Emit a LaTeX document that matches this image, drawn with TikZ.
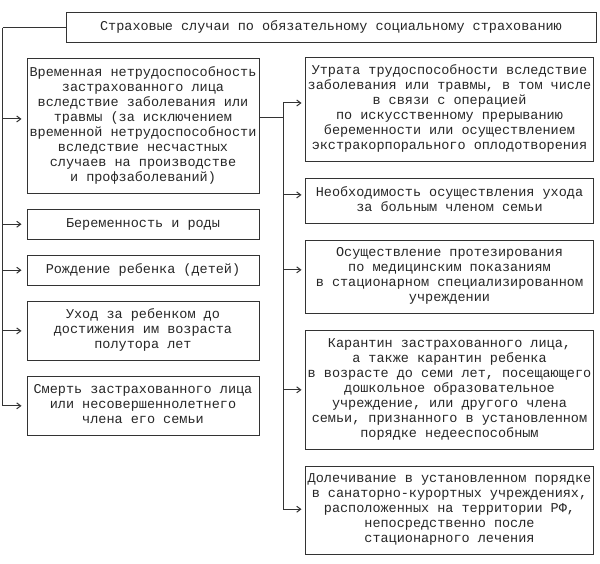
\documentclass[tikz,border=0pt]{standalone}
\usepackage{fontspec}
\setmonofont{Liberation Mono}
\usetikzlibrary{arrows.meta, chains, positioning}

\begin{document}
\begin{tikzpicture}
  [x=1pt, y=-1pt,
    >={Straight Barb[length=4pt, width=6pt]},
    every node/.style={font=\ttfamily\fontsize{13.5}{15}\selectfont, text=black!85}]

  \tikzset{
    box/.style={
      draw=black!80, line width=1pt,
      align=center,
      inner xsep=0pt, inner ysep=7.5pt,
      execute at begin node=\strut,
      execute at end node=\strut,
    },
    head/.style={box, minimum width=530pt},
    lbox/.style={box, minimum width=232pt},
    rbox/.style={box, minimum width=288pt},
    wire/.style={draw=black!80, line width=1pt},
    arrow/.style={wire, ->, shorten >=#1},
  }

  \useasboundingbox (0,0) rectangle (600,564);

  \node[head] (title) at (331,28) {Страховые случаи по обязательному социальному страхованию};

  % left column
  \begin{scope}[start chain=going below, node distance=15pt]
    \node[lbox, on chain] (l1) at (143,126)
      {Временная нетрудоспособность\\застрахованного лица\\вследствие заболевания или\\травмы (за исключением\\временной нетрудоспособности\\вследствие несчастных\\случаев на производстве\\и профзаболеваний)};
    \node[lbox, on chain] (l2) {Беременность и роды};
    \node[lbox, on chain] (l3) {Рождение ребенка (детей)};
    \node[lbox, on chain] (l4) {Уход за ребенком до\\достижения им возраста\\полутора лет};
    \node[lbox, on chain] (l5) {Смерть застрахованного лица\\или несовершеннолетнего\\члена его семьи};
  \end{scope}

  % right column
  \begin{scope}[start chain=going below, node distance=16pt]
    \node[rbox, on chain] (r1) at (449.5,109.5)
      {Утрата трудоспособности вследствие\\заболевания или травмы, в том числе\\в связи с операцией\\по искусственному прерыванию\\беременности или осуществлением\\экстракорпорального оплодотворения};
    \node[rbox, on chain] (r2) {Необходимость осуществления ухода\\за больным членом семьи};
    \node[rbox, on chain] (r3) {Осуществление протезирования\\по медицинским показаниям\\в стационарном специализированном\\учреждении};
    \node[rbox, on chain] (r4) {Карантин застрахованного лица,\\а также карантин ребенка\\в возрасте до семи лет, посещающего\\дошкольное образовательное\\учреждение, или другого члена\\семьи, признанного в установленном\\порядке недееспособным};
    \node[rbox, on chain] (r5) {Долечивание в установленном порядке\\в санаторно-курортных учреждениях,\\расположенных на территории РФ,\\непосредственно после\\стационарного лечения};
  \end{scope}

  \coordinate (lbus) at ([xshift=-63pt]title.west);
  \draw[wire] (title.west) -- (lbus);
  \foreach \n/\dy in {l1/7, l2/0, l3/0, l4/0, l5/0}
    \draw[arrow=5pt] (lbus) |- ([yshift=\dy pt]\n.west);

  \coordinate (rbus) at ([xshift=24pt, yshift=8pt]l1.east);
  \draw[wire] ([yshift=8pt]l1.east) -- (rbus);
  \foreach \n/\dy in {r1/6.5, r2/6, r3/7, r4/0, r5/1}
    \draw[arrow=3.5pt] (rbus) |- ([yshift=\dy pt]\n.west);
\end{tikzpicture}
\end{document}
